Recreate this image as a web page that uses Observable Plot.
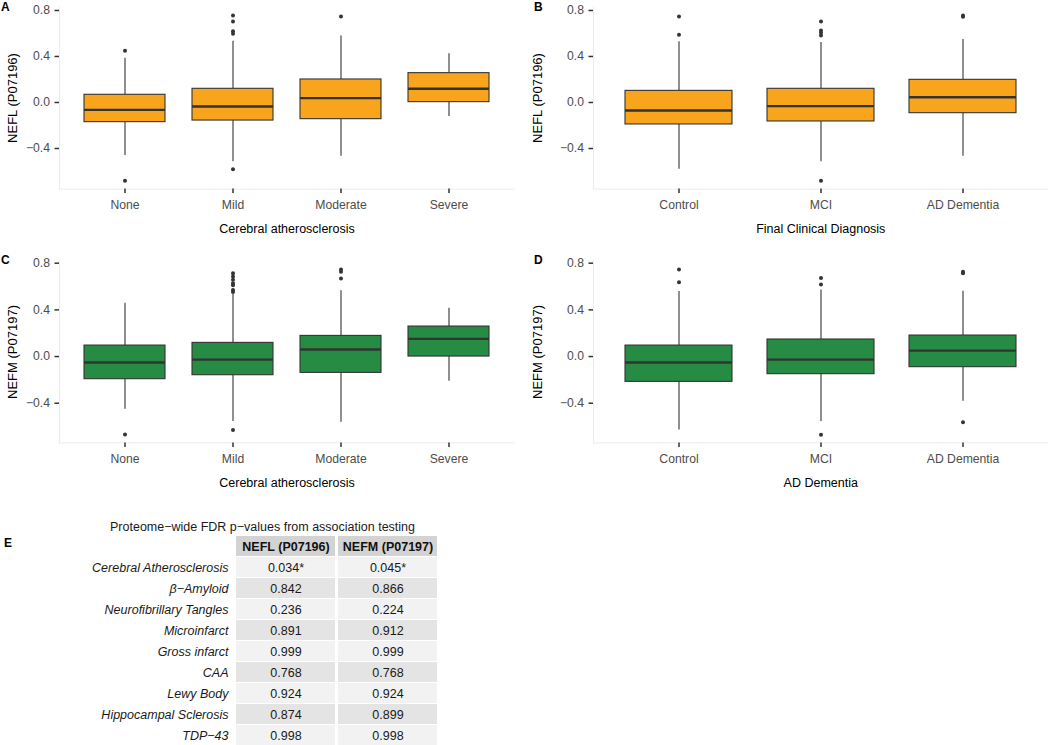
<!DOCTYPE html>
<html><head><meta charset="utf-8">
<script src="https://cdn.jsdelivr.net/npm/d3@7"></script>
<script src="https://cdn.jsdelivr.net/npm/@observablehq/plot@0.6"></script>
<style>
body{margin:0;background:#fff;}
#root{position:relative;width:1050px;height:745px;overflow:hidden;font-family:"Liberation Sans",Arial,Helvetica,sans-serif;}
.panel{position:absolute;}
.tag{position:absolute;font-weight:bold;font-size:12px;line-height:1;color:#000;}
.ytitle{position:absolute;font-size:13px;line-height:1;color:#000;white-space:nowrap;transform:translate(-50%,-50%) rotate(-90deg);}
</style></head><body><div id="root"></div>
<script>
// ---------- data ----------
const atheroCats = ["None", "Mild", "Moderate", "Severe"];
const dxCats = ["Control", "MCI", "AD Dementia"];
const yTicks = [-0.4, 0, 0.4, 0.8];

// Panel A: NEFL by cerebral atherosclerosis
const A_lower  = [-0.461, -0.516, -0.467, -0.122];
const A_q1     = [-0.171, -0.157, -0.145,  0.003];
const A_median = [-0.064, -0.035,  0.038,  0.119];
const A_q3     = [ 0.067,  0.119,  0.200,  0.255];
const A_upper  = [ 0.385,  0.533,  0.577,  0.423];
const A_out    = [[0.449, -0.681], [0.757, 0.704, 0.620, 0.597, -0.580], [0.748], []];

// Panel B: NEFL by final clinical diagnosis
const B_lower  = [-0.580, -0.516, -0.467];
const B_q1     = [-0.191, -0.165, -0.093];
const B_median = [-0.070, -0.032,  0.046];
const B_q3     = [ 0.101,  0.119,  0.197];
const B_upper  = [ 0.528,  0.522,  0.548];
const B_out    = [[0.748, 0.588], [0.704, 0.626, 0.606, 0.583, -0.681], [0.757, 0.745]];

// Panel C: NEFM by cerebral atherosclerosis
const C_lower  = [-0.451, -0.557, -0.563, -0.211];
const C_q1     = [-0.194, -0.160, -0.140,  0.000];
const C_median = [-0.051, -0.026,  0.060,  0.151];
const C_q3     = [ 0.094,  0.117,  0.177,  0.257];
const C_upper  = [ 0.457,  0.531,  0.563,  0.414];
const C_out    = [[-0.669], [0.714, 0.686, 0.657, 0.629, 0.611, 0.571, 0.554, -0.629], [0.746, 0.726, 0.669], []];

// Panel D: NEFM by AD dementia
const D_lower  = [-0.629, -0.557, -0.383];
const D_q1     = [-0.217, -0.151, -0.091];
const D_median = [-0.051, -0.026,  0.051];
const D_q3     = [ 0.094,  0.146,  0.180];
const D_upper  = [ 0.557,  0.571,  0.560];
const D_out    = [[0.746, 0.637], [0.674, 0.617, -0.671], [0.726, 0.714, -0.563]];

// Panel E: table
const tableTitle = "Proteome\u2212wide FDR p\u2212values from association testing";
const tableCols = ["NEFL (P07196)", "NEFM (P07197)"];
const tableRows = ["Cerebral Atherosclerosis", "\u03b2\u2212Amyloid", "Neurofibrillary Tangles", "Microinfarct",
  "Gross infarct", "CAA", "Lewy Body", "Hippocampal Sclerosis", "TDP\u221243"];
const neflP = ["0.034*", "0.842", "0.236", "0.891", "0.999", "0.768", "0.924", "0.874", "0.998"];
const nefmP = ["0.045*", "0.866", "0.224", "0.912", "0.999", "0.768", "0.924", "0.899", "0.998"];

const ORANGE = "#F8A51D";
const GREEN = "#268C43";
const FONT = '"Liberation Sans", Arial, Helvetica, sans-serif';

// ---------- drawing ----------
const root = document.getElementById("root");

function place(el, left, top) {
  el.classList.add("panel");
  el.style.left = left + "px";
  el.style.top = top + "px";
  root.appendChild(el);
}
function tag(letter, left, top) {
  const d = document.createElement("div");
  d.className = "tag";
  d.textContent = letter;
  d.style.left = left + "px";
  d.style.top = top + "px";
  root.appendChild(d);
}
function yTitle(text, cx, cy) {
  const d = document.createElement("div");
  d.className = "ytitle";
  d.textContent = text;
  d.style.left = cx + "px";
  d.style.top = cy + "px";
  root.appendChild(d);
}

function boxPanel(o) {
  const stats = o.cats.map((c, i) => ({cat: c, lower: o.lower[i], q1: o.q1[i], median: o.median[i], q3: o.q3[i], upper: o.upper[i]}));
  const outs = o.cats.flatMap((c, i) => o.out[i].map(v => ({cat: c, v})));
  return Plot.plot({
    width: 525, height: 250,
    marginLeft: o.ml, marginRight: o.mr, marginTop: o.mt, marginBottom: o.mb,
    style: {fontFamily: FONT, fontSize: "12.2px", background: "transparent", overflow: "visible"},
    x: {type: "band", domain: o.cats, paddingInner: 0.25, paddingOuter: 0.225},
    y: {domain: o.yDomain},
    marks: [
      Plot.frame({anchor: "left", stroke: "#ebebeb"}),
      Plot.frame({anchor: "bottom", stroke: "#ebebeb"}),
      Plot.axisY({ticks: yTicks, tickSize: 4.5, tickPadding: 5, tickFormat: d3.format(".1f"),
        stroke: "#333333", strokeWidth: 1.5, fill: "#4d4d4d", label: null}),
      Plot.axisX({tickSize: 4.5, tickPadding: 7, stroke: "#333333", strokeWidth: 1.5, fill: "#4d4d4d", label: null}),
      Plot.ruleX(stats, {x: "cat", y1: "lower", y2: "q1", stroke: "#333333", strokeWidth: 1.1}),
      Plot.ruleX(stats, {x: "cat", y1: "q3", y2: "upper", stroke: "#333333", strokeWidth: 1.1}),
      Plot.barY(stats, {x: "cat", y1: "q1", y2: "q3", fill: o.fill, stroke: "#333333", strokeWidth: 1.1}),
      Plot.tickY(stats, {x: "cat", y: "median", stroke: "#333333", strokeWidth: 2.4}),
      Plot.dot(outs, {x: "cat", y: "v", r: 2, fill: "#333333", stroke: null}),
      Plot.text([o.xLabel], {frameAnchor: "bottom", dy: 44, text: d => d, fontSize: 12.5, fill: "#000"})
    ]
  });
}

const topY = {mt: 6.4, mb: 61.4, yDomain: [-0.753, 0.831]};
const botY = {mt: 10.7, mb: 57.6, yDomain: [-0.740, 0.817]};

place(boxPanel({cats: atheroCats, lower: A_lower, q1: A_q1, median: A_median, q3: A_q3, upper: A_upper, out: A_out,
  fill: ORANGE, xLabel: "Cerebral atherosclerosis", ml: 59, mr: 11, ...topY}), 0, 0);
place(boxPanel({cats: dxCats, lower: B_lower, q1: B_q1, median: B_median, q3: B_q3, upper: B_upper, out: B_out,
  fill: ORANGE, xLabel: "Final Clinical Diagnosis", ml: 68, mr: 2.5, ...topY}), 525, 0);
place(boxPanel({cats: atheroCats, lower: C_lower, q1: C_q1, median: C_median, q3: C_q3, upper: C_upper, out: C_out,
  fill: GREEN, xLabel: "Cerebral atherosclerosis", ml: 59, mr: 11, ...botY}), 0, 250);
place(boxPanel({cats: dxCats, lower: D_lower, q1: D_q1, median: D_median, q3: D_q3, upper: D_upper, out: D_out,
  fill: GREEN, xLabel: "AD Dementia", ml: 68, mr: 2.5, ...botY}), 525, 250);

yTitle("NEFL (P07196)", 12, 97.5);
yTitle("NEFL (P07196)", 537, 97.5);
yTitle("NEFM (P07197)", 12, 351.5);
yTitle("NEFM (P07197)", 537, 351.5);

// table
const HEADER = " ";
const headerCells = tableCols.map(c => ({row: HEADER, col: c}));
const bodyCells = tableRows.flatMap((r, i) => [
  {row: r, col: tableCols[0], val: neflP[i], shade: i % 2 === 0 ? "#f2f2f2" : "#e4e4e4"},
  {row: r, col: tableCols[1], val: nefmP[i], shade: i % 2 === 0 ? "#f2f2f2" : "#e4e4e4"}
]);
const table = Plot.plot({
  width: 525, height: 245,
  marginLeft: 236, marginRight: 88, marginTop: 36, marginBottom: 0,
  style: {fontFamily: FONT, fontSize: "12.5px", background: "transparent", overflow: "visible"},
  x: {type: "band", domain: tableCols, paddingInner: 0.03, paddingOuter: 0, axis: null},
  y: {type: "band", domain: [HEADER, ...tableRows], paddingInner: 0.06, paddingOuter: 0, axis: null},
  marks: [
    Plot.cell(headerCells, {x: "col", y: "row", fill: "#d3d3d3", inset: 0}),
    Plot.cell(bodyCells, {x: "col", y: "row", fill: "shade", inset: 0}),
    Plot.text(headerCells, {x: "col", y: "row", text: "col", fontWeight: "bold", fill: "#111", fontSize: 12.5}),
    Plot.text(bodyCells, {x: "col", y: "row", text: "val", fill: "#1a1a1a", fontSize: 12.5}),
    Plot.text(tableRows, {y: d => d, text: d => d, frameAnchor: "left", dx: -8, textAnchor: "end", fontStyle: "italic", fill: "#1a1a1a", fontSize: 12.5}),
    Plot.text([tableTitle], {frameAnchor: "top", dx: 262 - 336.5, dy: -14.3, text: d => d, fill: "#1a1a1a", fontSize: 12.5})
  ]
});
place(table, 0, 500);

tag("A", 1, 1);
tag("B", 534, 1);
tag("C", 1, 254);
tag("D", 534, 254);
tag("E", 4, 537);
</script>
</body></html>
